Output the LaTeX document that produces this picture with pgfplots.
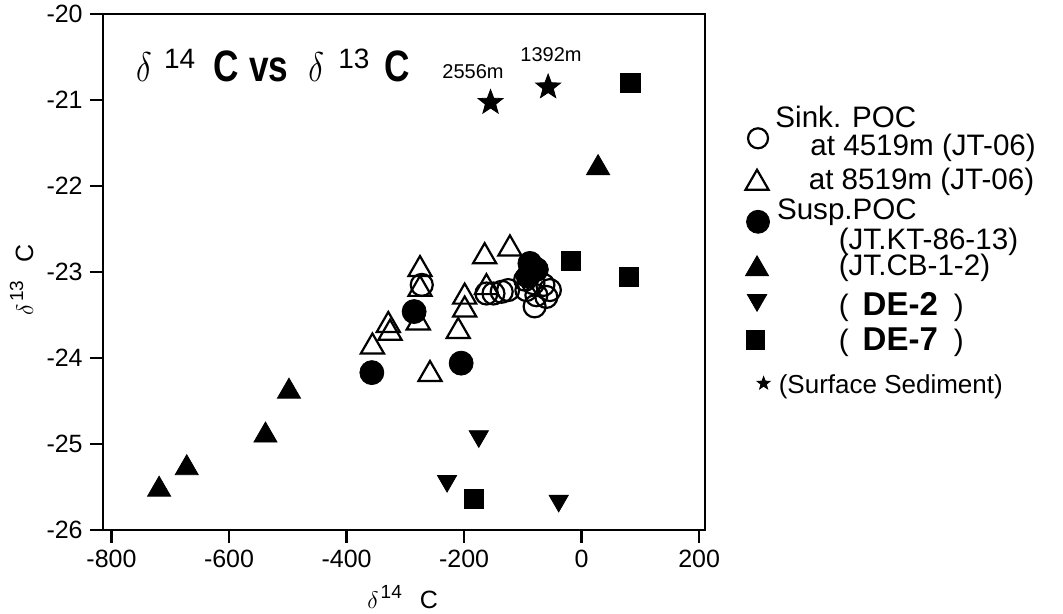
\documentclass[border=0pt]{standalone}
\usepackage{pgfplots}
\pgfplotsset{compat=1.18}
\usepackage{fontspec}
\setmainfont{Liberation Sans}

\pgfdeclareplotmark{fstar}{%
  \pgfpathmoveto{\pgfqpointpolar{90}{\pgfplotmarksize}}%
  \pgfpathlineto{\pgfqpointpolar{126}{0.42\pgfplotmarksize}}%
  \pgfpathlineto{\pgfqpointpolar{162}{\pgfplotmarksize}}%
  \pgfpathlineto{\pgfqpointpolar{198}{0.42\pgfplotmarksize}}%
  \pgfpathlineto{\pgfqpointpolar{234}{\pgfplotmarksize}}%
  \pgfpathlineto{\pgfqpointpolar{270}{0.42\pgfplotmarksize}}%
  \pgfpathlineto{\pgfqpointpolar{306}{\pgfplotmarksize}}%
  \pgfpathlineto{\pgfqpointpolar{342}{0.42\pgfplotmarksize}}%
  \pgfpathlineto{\pgfqpointpolar{18}{\pgfplotmarksize}}%
  \pgfpathlineto{\pgfqpointpolar{54}{0.42\pgfplotmarksize}}%
  \pgfpathclose
  \pgfusepathqfillstroke
}

\pgfplotsset{
  limg/.style 2 args={legend image code/.code={%
      \path[draw=none,fill=none] (-6pt,-1pt) rectangle (6pt,1pt);
      \draw[overlay,##1] plot coordinates {(#1,#2)};}},
}
\newcommand\st[1]{\rule[-4pt]{0pt}{\dimexpr#1pt+4pt\relax}}

\begin{document}
\begin{tikzpicture}[x=1pt,y=1pt]
\fill[white] (0,0) rectangle (531.5,307);
\useasboundingbox (0,0) rectangle (531.5,307);
\begin{axis}[
  at={(51.35pt,42pt)}, anchor=south west,
  scale only axis, width=301.15pt, height=258pt,
  xmin=-815, xmax=210, ymin=-26, ymax=-20,
  xtick={-800,-600,-400,-200,0,200},
  ytick={-26,-25,-24,-23,-22,-21,-20},
  xtick pos=left, ytick pos=left,
  tick align=outside, major tick length=6.5pt,
  axis line style={line width=1.2pt},
  every tick/.style={black, line width=1.2pt},
  tick label style={font=\fontsize{12.5}{14}\selectfont},
  /pgf/number format/assume math mode=true,
  clip=false,
  legend cell align=left,
  legend style={at={(1.0681,0.8227)}, anchor=north west, draw=none, fill=none,
    inner sep=0pt, outer sep=0pt, row sep=0pt, column sep=2.7pt,
    cells={anchor=base west},
    nodes={inner sep=0pt, font=\fontsize{14.8}{16}\selectfont}},
]
% Sinking POC at 4519 m (open circles)
\addplot[only marks, mark=o, mark size=5.5pt, line width=1.1pt, forget plot] coordinates {
(-272,-23.15) (-162,-23.25) (-150,-23.25) (-136,-23.23) (-125,-23.21)
(-96,-23.09) (-82,-23.13) (-65,-23.15) (-54,-23.21) (-94,-23.21)
(-77,-23.27) (-60,-23.29) (-80,-23.40)
};
% Sinking POC at 8519 m (open triangles)
\addplot[only marks, mark=triangle, mark size=6.67pt, line width=1.1pt, forget plot] coordinates {
(-356,-23.87) (-329,-23.62) (-326,-23.71) (-275,-22.97) (-275,-23.20)
(-278,-23.59) (-210,-23.69) (-199,-23.29) (-199,-23.44) (-165,-22.82)
(-122,-22.73) (-162,-23.18) (-258,-24.19)
};
% Susp. POC JT.KT-86-13 (filled circles)
\addplot[only marks, mark=*, mark size=6pt, forget plot] coordinates {
(-357,-24.17) (-205,-24.06) (-285,-23.46) (-88,-22.90) (-77,-22.97) (-91,-23.05)
};
% JT.CB-1-2 (filled triangles)
\addplot[only marks, mark=triangle*, mark size=6.67pt, forget plot] coordinates {
(-498,-24.39) (-538,-24.90) (-672,-25.28) (-719,-25.53) (28,-21.79)
};
% DE-2 (filled down triangles)
\addplot[only marks, mark=triangle*, mark size=5.55pt, mark options={rotate=180}, forget plot] coordinates {
(-175,-24.91) (-229,-25.43) (-39,-25.66)
};
% DE-7 (filled squares)
\addplot[only marks, mark=square*, mark size=4.8pt, forget plot] coordinates {
(83,-20.80) (-18,-22.87) (81,-23.06) (-183,-25.64)
};
% Surface sediment (stars)
\addplot[only marks, mark=fstar, mark size=6.5pt, forget plot] coordinates {
(-155,-21.03) (-57,-20.85)
};

\addlegendimage{empty legend}
\addlegendentry{\st{11}Sink. POC}
\addlegendimage{only marks, mark=o, mark size=5pt, line width=1.1pt, limg={0pt}{8.7pt}}
\addlegendentry{\st{12.6}\hspace*{17.5pt}at 4519m (JT-06)}
\addlegendimage{only marks, mark=triangle, mark size=6.67pt, line width=1.1pt, limg={-0.5pt}{3pt}}
\addlegendentry{\st{15.2}\hspace*{16.7pt}at 8519m (JT-06)}
\addlegendimage{only marks, mark=*, mark size=5.75pt, limg={0pt}{-1.35pt}}
\addlegendentry{\st{13.5}\hspace*{0.8pt}Susp.POC}
\addlegendimage{empty legend}
\addlegendentry{\st{13.5}\hspace*{31.7pt}(JT.KT-86-13)}
\addlegendimage{only marks, mark=triangle*, mark size=6.67pt, limg={-0.5pt}{3.35pt}}
\addlegendentry{\st{11.85}\hspace*{31.7pt}(JT.CB-1-2)}
\addlegendimage{only marks, mark=triangle*, mark size=5.6pt, mark options={rotate=180}, limg={-0.5pt}{7.5pt}}
\addlegendentry{\st{18.15}\hspace*{31.7pt}(\hspace{7pt}{\bfseries\fontsize{16.5}{18}\selectfont DE-2}\hspace{8pt})}
\addlegendimage{only marks, mark=square*, mark size=4.6pt, limg={-1.3pt}{5pt}}
\addlegendentry{\st{16}\hspace*{31.7pt}(\hspace{7pt}{\bfseries\fontsize{16.5}{18}\selectfont DE-7}\hspace{8pt})}
\addlegendimage{only marks, mark=fstar, mark size=3.4pt, limg={2.8pt}{5pt}}
\addlegendentry{\st{20.15}\hspace*{1.7pt}{\fontsize{13}{14}\selectfont(Surface Sediment)}}
\end{axis}

% title pieces
\node[anchor=base west, inner sep=0pt] at (67.9,266) {\scalebox{0.8}[1]{\fontsize{22}{26}\selectfont$\delta$}};
\node[anchor=base west, inner sep=0pt] at (81.8,272.5) {\fontsize{14}{16}\selectfont 14};
\node[anchor=base west, inner sep=0pt] at (106.5,266) {\scalebox{0.8}[1]{\fontsize{22}{26}\selectfont\bfseries C}};
\node[anchor=base west, inner sep=0pt] at (124.5,266) {\scalebox{0.8}[1]{\fontsize{22}{26}\selectfont\bfseries vs}};
\node[anchor=base west, inner sep=0pt] at (154,266) {\scalebox{0.8}[1]{\fontsize{22}{26}\selectfont$\delta$}};
\node[anchor=base west, inner sep=0pt] at (169,272.5) {\fontsize{14}{16}\selectfont 13};
\node[anchor=base west, inner sep=0pt] at (192,266) {\scalebox{0.8}[1]{\fontsize{22}{26}\selectfont\bfseries C}};

% depth labels
\node[inner sep=0pt, font=\fontsize{10}{12}\selectfont] at (236.5,271.25) {2556m};
\node[inner sep=0pt, font=\fontsize{10}{12}\selectfont] at (275.5,279.75) {1392m};

% axis labels
\node[anchor=base west, inner sep=0pt, font=\fontsize{12.5}{14}\selectfont] at (183.5,2.5)
  {$\delta$\hspace{1pt}\raisebox{5pt}{\fontsize{9.5}{10}\selectfont 14}\hspace{9pt}C};
\node[anchor=base, rotate=90, inner sep=0pt, font=\fontsize{12.5}{14}\selectfont] at (16.5,167)
  {$\delta$\hspace{1pt}\raisebox{5pt}{\fontsize{9.5}{10}\selectfont 13}\hspace{9pt}C};
\end{tikzpicture}
\end{document}
